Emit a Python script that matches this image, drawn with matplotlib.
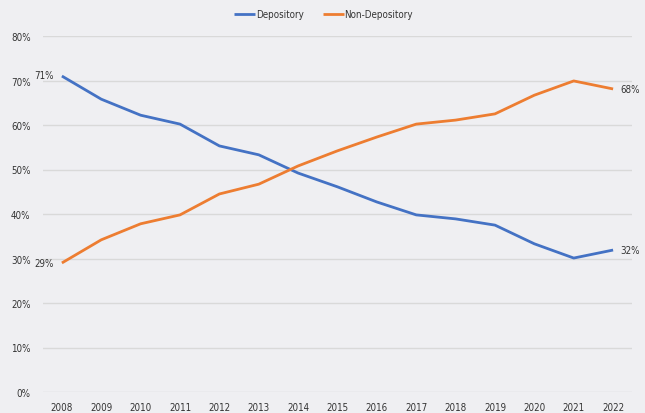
import matplotlib
matplotlib.use("Agg")
import matplotlib.pyplot as plt
from matplotlib import font_manager

years = list(range(2008, 2023))
depository = [71.0, 65.8, 62.2, 60.2, 55.3, 53.3, 49.2, 46.1, 42.7, 39.8, 38.9, 37.5, 33.3, 30.1, 31.9]
non_depository = [29.0, 34.2, 37.8, 39.8, 44.5, 46.7, 50.8, 54.2, 57.3, 60.2, 61.1, 62.5, 66.7, 69.9, 68.1]
yticks = [0, 10, 20, 30, 40, 50, 60, 70, 80]

names = {f.name for f in font_manager.fontManager.ttflist}
if 'Liberation Sans Narrow' in names:
    plt.rcParams['font.family'] = ['Liberation Sans Narrow', 'DejaVu Sans']
else:
    plt.rcParams['font.family'] = ['DejaVu Sans']
    plt.rcParams['font.stretch'] = 'condensed'

bg = '#efeff2'
fs = 7
fig = plt.figure(figsize=(6.45, 4.14), dpi=100, facecolor=bg)
ax = fig.add_axes([43/645, (414-393)/414, (632-43)/645, (393-37)/414])
ax.set_facecolor(bg)

blue = '#4472c4'
orange = '#ed7d31'
ax.plot(years, depository, color=blue, lw=2.0, label='Depository', solid_capstyle='butt')
ax.plot(years, non_depository, color=orange, lw=2.0, label='Non-Depository', solid_capstyle='butt')

ax.set_xlim(2007.52, 2022.48)
ax.set_ylim(0, 80)
ax.set_yticks(yticks)
ax.set_yticklabels([f'{v}%' for v in yticks])
ax.set_xticks(years)
ax.set_xticklabels([str(y) for y in years])
ax.grid(axis='y', color='#d9d9d9', lw=1)
ax.set_axisbelow(True)
for s in ax.spines.values():
    s.set_visible(False)
ax.tick_params(length=0, labelsize=fs, colors='#333333')
ax.tick_params(axis='y', pad=9)
ax.tick_params(axis='x', pad=7)

tc = '#333333'
ax.annotate(f'{depository[0]:.0f}%', (years[0], depository[0]), xytext=(-6, 1), textcoords='offset points',
            ha='right', va='center', fontsize=fs, color=tc)
ax.annotate(f'{non_depository[0]:.0f}%', (years[0], non_depository[0]), xytext=(-6, 0), textcoords='offset points',
            ha='right', va='center', fontsize=fs, color=tc)
ax.annotate(f'{depository[-1]:.0f}%', (years[-1], depository[-1]), xytext=(5, 0), textcoords='offset points',
            ha='left', va='center', fontsize=fs, color=tc)
ax.annotate(f'{non_depository[-1]:.0f}%', (years[-1], non_depository[-1]), xytext=(5, 0), textcoords='offset points',
            ha='left', va='center', fontsize=fs, color=tc)

fig.legend(loc='center', bbox_to_anchor=(0.502, 0.963), ncol=2, frameon=False, fontsize=fs,
           handlelength=2.1, handletextpad=0.1, columnspacing=2.0, labelcolor=tc)

fig.savefig('out.png', dpi=100, facecolor=bg)
